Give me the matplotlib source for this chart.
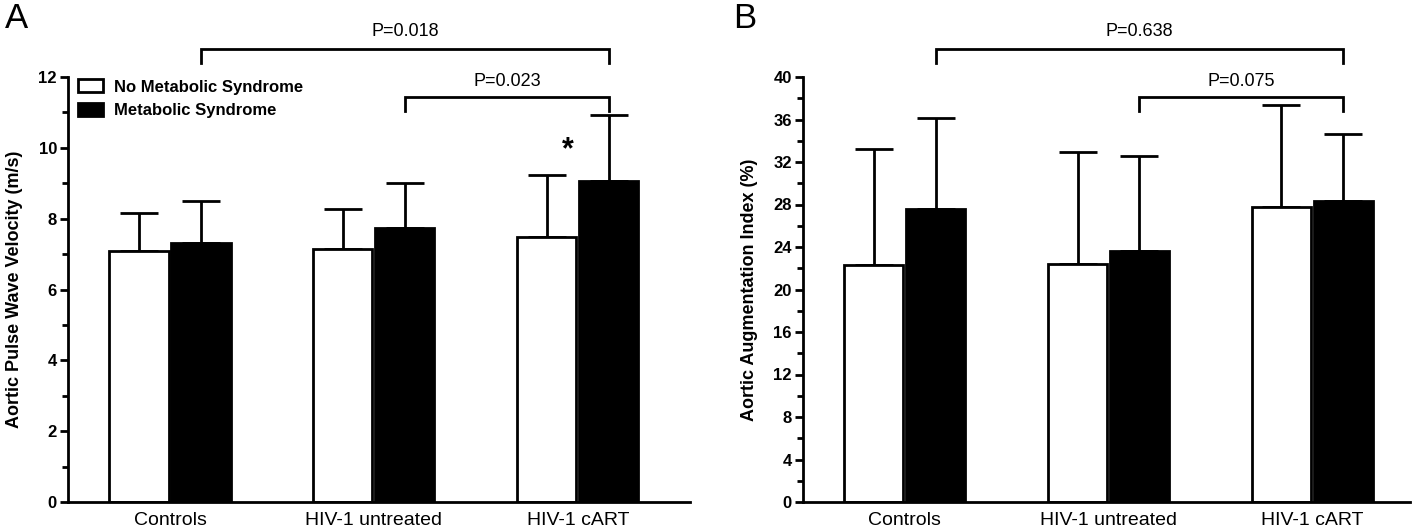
import numpy as np
import matplotlib.pyplot as plt
from matplotlib.patches import Rectangle

plt.rcParams['font.family'] = ['Liberation Sans', 'DejaVu Sans']

groups = ['Controls', 'HIV-1 untreated', 'HIV-1 cART']
series = ['No Metabolic Syndrome', 'Metabolic Syndrome']

# panel A: aortic pulse wave velocity (m/s)
pwv_no = [7.08, 7.13, 7.48]
pwv_no_sd = [1.08, 1.15, 1.75]
pwv_ms = [7.32, 7.73, 9.06]
pwv_ms_sd = [1.18, 1.29, 1.86]

# panel B: aortic augmentation index (%)
aix_no = [22.3, 22.4, 27.8]
aix_no_sd = [10.9, 10.5, 9.6]
aix_ms = [27.6, 23.6, 28.3]
aix_ms_sd = [8.5, 9.0, 6.3]

pvals_a = ['P=0.018', 'P=0.023']
pvals_b = ['P=0.638', 'P=0.075']

W, H = 1416, 529
fig = plt.figure(figsize=(W / 100, H / 100), dpi=100)

def draw_panel(ax, no, no_sd, ms, ms_sd, ymax, major, ylabel, pvals, right_lim):
    x = np.arange(len(groups))
    w = 0.29
    off = 0.152
    ax.bar(x - off, no, w, color='white', edgecolor='black', linewidth=2, zorder=2)
    ax.bar(x + off, ms, w, color='black', edgecolor='black', linewidth=2, zorder=2)
    ax.errorbar(x - off, no, yerr=[np.zeros(3), no_sd], fmt='none', ecolor='black',
                elinewidth=2, capsize=14, capthick=2, zorder=1)
    ax.errorbar(x + off, ms, yerr=[np.zeros(3), ms_sd], fmt='none', ecolor='black',
                elinewidth=2, capsize=14, capthick=2, zorder=1)
    ax.set_xlim(-0.5, len(groups) - 1 + right_lim)
    ax.set_ylim(0, ymax)
    ax.set_yticks(np.arange(0, ymax + 0.01, major))
    ax.set_yticks(np.arange(major / 2, ymax, major), minor=True)
    ax.set_xticks(x)
    ax.set_xticklabels(groups, fontsize=14)
    ax.tick_params(axis='x', length=0, pad=7)
    ax.tick_params(axis='y', which='major', length=6, width=2, labelsize=12, pad=2)
    ax.tick_params(axis='y', which='minor', length=4, width=2)
    for lab in ax.get_yticklabels():
        lab.set_fontweight('bold')
    for s in ['top', 'right']:
        ax.spines[s].set_visible(False)
    for s in ['left', 'bottom']:
        ax.spines[s].set_linewidth(2)
    ax.set_ylabel(ylabel, fontsize=13, fontweight='bold', labelpad=11)

    # significance brackets (in fractions of ymax)
    u = ymax / 12.0
    specs = [(0 + off, 2 + off, 12.8 * u, 12.4 * u, 13.28 * u, pvals[0]),
             (1 + off, 2 + off, 11.44 * u, 11.05 * u, 11.86 * u, pvals[1])]
    for x0, x1, yb, yl, yt, txt in specs:
        ax.plot([x0, x0, x1, x1], [yl, yb, yb, yl], color='black', lw=2,
                clip_on=False, solid_joinstyle='miter')
        ax.text((x0 + x1) / 2, yt, txt, ha='center', va='center', fontsize=13,
                clip_on=False)

ax_a = fig.add_axes([68 / W, 1 - 502 / H, (690 - 68) / W, (502 - 77) / H])
draw_panel(ax_a, pwv_no, pwv_no_sd, pwv_ms, pwv_ms_sd, 12, 2,
           'Aortic Pulse Wave Velocity (m/s)', pvals_a, 0.55)
ax_a.text(2 - 0.05, 9.93, '*', ha='center', va='center', fontsize=22, fontweight='bold')

ax_a.legend(handles=[Rectangle((0, 0), 1, 1, fc='white', ec='black', lw=2),
                     Rectangle((0, 0), 1, 1, fc='black', ec='black', lw=2)],
            labels=series, loc='upper left', bbox_to_anchor=(0.006, 1.01),
            frameon=False, prop={'weight': 'bold', 'size': 12},
            handlelength=1.45, handleheight=0.8, handletextpad=0.7, labelspacing=0.5,
            borderaxespad=0)

ax_b = fig.add_axes([803 / W, 1 - 502 / H, (1410 - 803) / W, (502 - 77) / H])
draw_panel(ax_b, aix_no, aix_no_sd, aix_ms, aix_ms_sd, 40, 4,
           'Aortic Augmentation Index (%)', pvals_b, 0.48)

fig.text(5 / W, 1 - 18 / H, 'A', fontsize=25, va='center', ha='left')
fig.text(733 / W, 1 - 18 / H, 'B', fontsize=25, va='center', ha='left')

fig.savefig('out.png', dpi=100)
